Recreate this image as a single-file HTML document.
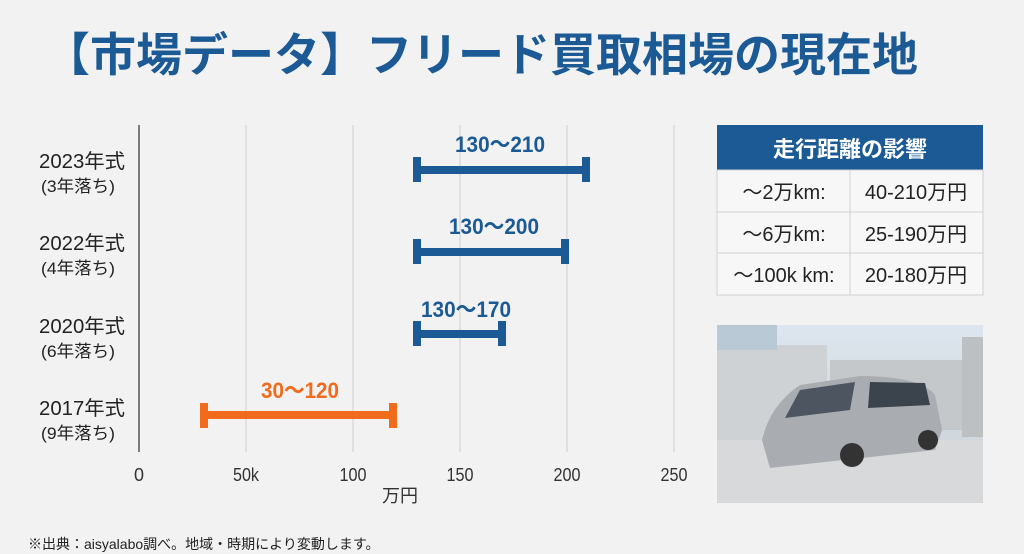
<!DOCTYPE html>
<html><head><meta charset="utf-8"><style>
body{margin:0;width:1024px;height:554px;background:#f2f2f2;overflow:hidden;position:relative;font-family:"Liberation Sans","Noto Sans CJK JP",sans-serif}
.t{position:absolute;white-space:nowrap}
</style></head><body>
<div class="t" style="left:44px;top:25px;font-size:46px;font-weight:bold;color:#1b5a94;line-height:60px">【市場データ】フリード買取相場の現在地</div>
<svg width="1024" height="554" style="position:absolute;left:0;top:0" font-family="'Liberation Sans','Noto Sans CJK JP',sans-serif">
<g stroke="#d4d4d4" stroke-width="1.2">
<line x1="246" y1="125" x2="246" y2="452"/><line x1="353" y1="125" x2="353" y2="452"/><line x1="460" y1="125" x2="460" y2="452"/><line x1="567" y1="125" x2="567" y2="452"/><line x1="674" y1="125" x2="674" y2="452"/>
</g>
<line x1="139" y1="125" x2="139" y2="452" stroke="#555" stroke-width="1.5"/>
<g font-size="18" fill="#333" text-anchor="middle">
<text x="139" y="481">0</text><text x="246" y="481" textLength="26" lengthAdjust="spacingAndGlyphs">50k</text><text x="353" y="481" textLength="27" lengthAdjust="spacingAndGlyphs">100</text><text x="460" y="481" textLength="27" lengthAdjust="spacingAndGlyphs">150</text><text x="567" y="481" textLength="27" lengthAdjust="spacingAndGlyphs">200</text><text x="674" y="481" textLength="27" lengthAdjust="spacingAndGlyphs">250</text>
<text x="400" y="502" font-size="18" font-family="'Noto Sans CJK JP',sans-serif">万円</text>
</g>
<g font-size="20" fill="#222" text-anchor="middle">
<text x="82" y="168" textLength="86" lengthAdjust="spacingAndGlyphs">2023年式</text><text x="78" y="192" font-size="17" textLength="74" lengthAdjust="spacingAndGlyphs">(3年落ち)</text>
<text x="82" y="250" textLength="86" lengthAdjust="spacingAndGlyphs">2022年式</text><text x="78" y="274" font-size="17" textLength="74" lengthAdjust="spacingAndGlyphs">(4年落ち)</text>
<text x="82" y="333" textLength="86" lengthAdjust="spacingAndGlyphs">2020年式</text><text x="78" y="357" font-size="17" textLength="74" lengthAdjust="spacingAndGlyphs">(6年落ち)</text>
<text x="82" y="415" textLength="86" lengthAdjust="spacingAndGlyphs">2017年式</text><text x="78" y="439" font-size="17" textLength="74" lengthAdjust="spacingAndGlyphs">(9年落ち)</text>
</g>
<g fill="#1b5a94">
<rect x="417" y="166" width="170" height="8"/><rect x="413" y="157" width="8" height="25"/><rect x="582" y="157" width="8" height="25"/>
<rect x="417" y="248" width="149" height="8"/><rect x="413" y="239" width="8" height="25"/><rect x="561" y="239" width="8" height="25"/>
<rect x="417" y="330" width="85" height="8"/><rect x="413" y="321" width="8" height="25"/><rect x="498" y="321" width="8" height="25"/>
<g font-size="22" font-weight="bold" text-anchor="middle">
<text x="500" y="152" textLength="90" lengthAdjust="spacingAndGlyphs">130〜210</text><text x="494" y="234" textLength="90" lengthAdjust="spacingAndGlyphs">130〜200</text><text x="466" y="317" textLength="90" lengthAdjust="spacingAndGlyphs">130〜170</text>
</g>
</g>
<g fill="#f26a1b">
<rect x="204" y="411" width="190" height="8"/><rect x="200" y="403" width="8" height="25"/><rect x="389" y="403" width="8" height="25"/>
<text x="300" y="398" font-size="22" font-weight="bold" text-anchor="middle" textLength="78" lengthAdjust="spacingAndGlyphs">30〜120</text>
</g>
<rect x="717" y="125" width="266" height="45" fill="#1b5a94"/>
<text x="850" y="157" font-size="22" font-weight="bold" fill="#fff" text-anchor="middle" font-family="'Noto Sans CJK JP',sans-serif">走行距離の影響</text>
<rect x="717" y="170" width="266" height="125" fill="#f7f7f7" stroke="#d0d0d0"/>
<g stroke="#d0d0d0"><line x1="717" y1="212" x2="983" y2="212"/><line x1="717" y1="253" x2="983" y2="253"/><line x1="850" y1="170" x2="850" y2="295"/></g>
<g font-size="20" fill="#222" text-anchor="middle">
<text x="784" y="199">〜2万km:</text><text x="916" y="199">40-210万円</text>
<text x="784" y="241">〜6万km:</text><text x="916" y="241">25-190万円</text>
<text x="784" y="282">〜100k km:</text><text x="916" y="282">20-180万円</text>
</g>
<defs><linearGradient id="sky" x1="0" y1="0" x2="0" y2="1"><stop offset="0" stop-color="#dde6ee"/><stop offset="1" stop-color="#c8ced3"/></linearGradient></defs>
<rect x="717" y="325" width="266" height="178" fill="url(#sky)"/>
<rect x="717" y="345" width="110" height="100" fill="#cfd2d4"/>
<rect x="717" y="325" width="60" height="25" fill="#b9c9d6"/>
<rect x="830" y="360" width="153" height="70" fill="#c5c8ca"/>
<rect x="962" y="337" width="21" height="100" fill="#bcc0c2"/>
<rect x="717" y="440" width="266" height="63" fill="#d7d9da"/>
<path d="M762 440 Q770 405 800 385 L860 376 Q920 376 935 395 L942 430 L935 450 L770 468 Z" fill="#a9adb1"/>
<path d="M800 390 L855 382 L850 410 L785 418 Z" fill="#4c5560"/>
<path d="M870 382 L925 383 L930 405 L868 408 Z" fill="#3b434c"/>
<circle cx="852" cy="455" r="12" fill="#333"/><circle cx="928" cy="440" r="10" fill="#333"/>
<text x="28" y="549" font-size="14" fill="#222">※出典：aisyalabo調べ。地域・時期により変動します。</text>
</svg>
</body></html>
